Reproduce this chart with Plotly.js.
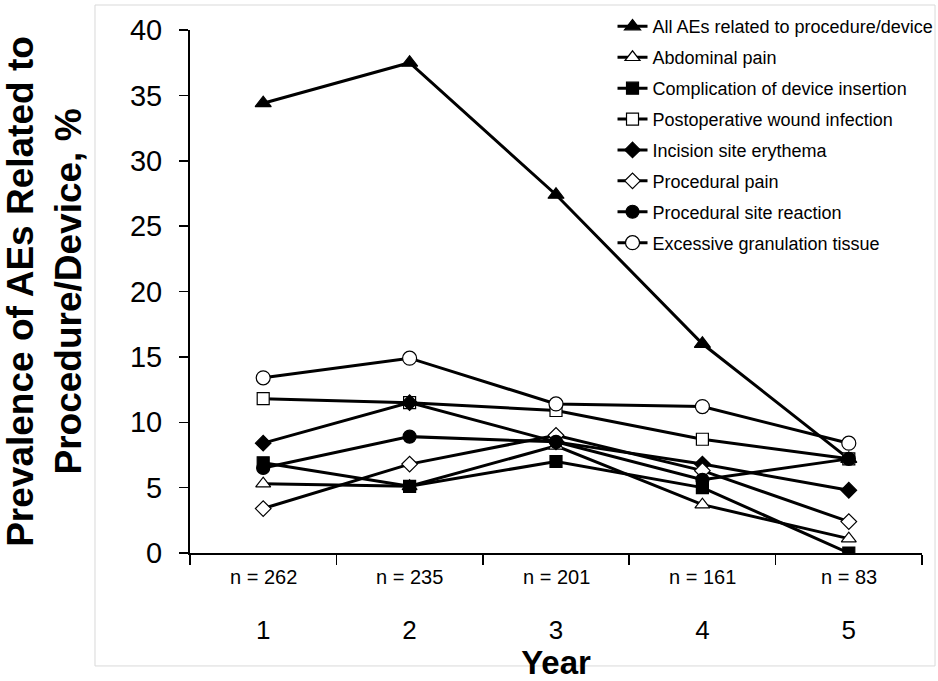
<!DOCTYPE html>
<html>
<head>
<meta charset="utf-8">
<script src="https://cdn.plot.ly/plotly-3.0.1.min.js"></script>
<style>html,body{margin:0;padding:0;background:#fff;}#chart{width:938px;height:681px;}</style>
</head>
<body>
<div id="chart"></div>
<script>
// ---- data ----
const years = [1, 2, 3, 4, 5];
const nLabels = ['n = 262', 'n = 235', 'n = 201', 'n = 161', 'n = 83'];
const seriesNames = [
  'All AEs related to procedure/device',
  'Abdominal pain',
  'Complication of device insertion',
  'Postoperative wound infection',
  'Incision site erythema',
  'Procedural pain',
  'Procedural site reaction',
  'Excessive granulation tissue'
];
const allAEs         = [34.4, 37.5, 27.4, 16.0, 7.2];
const abdominalPain  = [5.3, 5.1, 8.2, 3.7, 1.1];
const complication   = [6.9, 5.1, 7.0, 5.0, 0.0];
const woundInfection = [11.8, 11.5, 10.9, 8.7, 7.2];
const erythema       = [8.4, 11.5, 8.5, 6.8, 4.8];
const proceduralPain = [3.4, 6.8, 9.0, 6.3, 2.4];
const siteReaction   = [6.5, 8.9, 8.5, 5.6, 7.2];
const granulation    = [13.4, 14.9, 11.4, 11.2, 8.4];
const yTickVals = [0, 5, 10, 15, 20, 25, 30, 35, 40];

// ---- styling ----
const seriesValues = [allAEs, abdominalPain, complication, woundInfection, erythema, proceduralPain, siteReaction, granulation];
const symbols = ['triangle-up', 'triangle-up', 'square', 'square', 'diamond', 'diamond', 'circle', 'circle'];
const filled  = [true, false, true, false, true, false, true, false];
const sizes   = [14, 13, 12, 12, 12, 12, 13, 14];
const FONT = 'Arial, "Liberation Sans", sans-serif';

const traces = seriesValues.map((vals, i) => ({
  type: 'scatter',
  mode: 'lines+markers',
  x: years,
  y: vals,
  name: seriesNames[i],
  legendgroup: 'g' + i,
  line: {color: '#000', width: 3},
  marker: {
    symbol: symbols[i],
    size: sizes[i],
    color: filled[i] ? '#000' : '#fff',
    line: {color: '#000', width: 1.2}
  },
  hoverinfo: 'skip'
}));

const boundaries = [0.5, 1.5, 2.5, 3.5, 4.5, 5.5];

const annotations = years.map((yr, i) => ({
  x: yr, xref: 'x',
  y: 0, yref: 'paper',
  yanchor: 'middle',
  yshift: -24,
  text: nLabels[i],
  showarrow: false,
  font: {family: FONT, size: 20, color: '#000'}
}));

const layout = {
  width: 938,
  height: 681,
  paper_bgcolor: '#fff',
  plot_bgcolor: '#fff',
  margin: {l: 190, r: 16, t: 30, b: 128, autoexpand: false},
  font: {family: FONT, color: '#000'},
  showlegend: true,
  legend: {
    xref: 'container', yref: 'container',
    x: 0.653, xanchor: 'left',
    y: 0.988, yanchor: 'top',
    bgcolor: 'rgba(0,0,0,0)',
    font: {family: FONT, size: 18, color: '#000'},
    tracegroupgap: 4.5,
    traceorder: 'grouped'
  },
  xaxis: {
    range: [0.5, 5.5],
    tickmode: 'array',
    tickvals: years,
    ticktext: years.map(String),
    ticks: '',
    ticklabelstandoff: 53,
    tickfont: {family: FONT, size: 26, color: '#000'},
    minor: {tickmode: 'array', tickvals: boundaries, ticks: 'outside', ticklen: 10, tickwidth: 1.5, tickcolor: '#000', showgrid: false},
    showline: true, linecolor: '#000', linewidth: 2,
    showgrid: false, zeroline: false,
    title: {text: '<b>Year</b>', font: {family: FONT, size: 33, color: '#000'}, standoff: 4}
  },
  yaxis: {
    range: [0, 40],
    tickmode: 'array',
    tickvals: yTickVals,
    ticks: 'outside', ticklen: 9, tickwidth: 1.5, tickcolor: '#000',
    ticklabelstandoff: 11,
    tickfont: {family: FONT, size: 29, color: '#000'},
    showline: true, linecolor: '#000', linewidth: 2,
    showgrid: false, zeroline: false,
    title: {text: '<b>Prevalence of AEs Related to<br>Procedure/Device, %</b>', font: {family: FONT, size: 37, color: '#000'}, standoff: 38}
  },
  annotations: annotations,
  shapes: [{
    type: 'rect', xref: 'paper', yref: 'paper',
    x0: -0.1298, x1: 1.0178, y0: -0.216, y1: 1.0478,
    line: {color: '#d9d9d9', width: 1},
    fillcolor: 'rgba(0,0,0,0)', layer: 'below'
  }]
};

Plotly.newPlot('chart', traces, layout, {displayModeBar: false, staticPlot: true});
</script>
</body>
</html>
